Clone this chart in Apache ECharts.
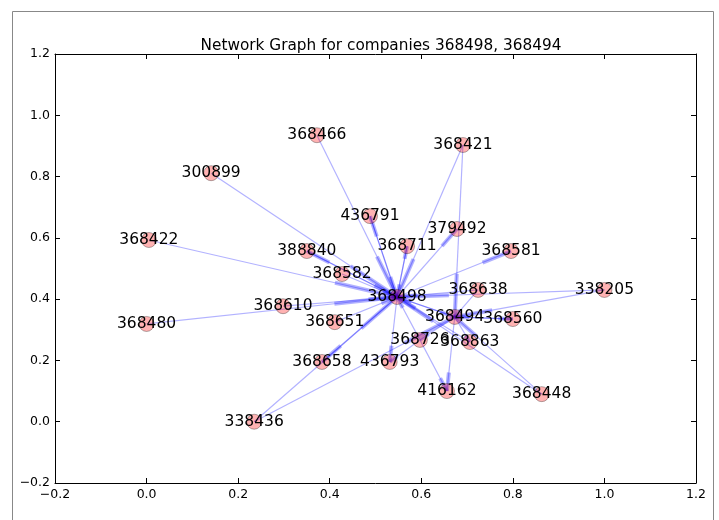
<!DOCTYPE html>
<html>
<head>
<meta charset="utf-8">
<script src="https://cdn.jsdelivr.net/npm/echarts@6/dist/echarts.min.js"></script>
<style>html,body{margin:0;padding:0;background:#fff;}#c{width:719px;height:520px;}</style>
</head>
<body>
<div id="c"></div>
<script>
var titleText = 'Network Graph for companies 368498, 368494';
var nodeNames = ['368498','368494','368466','300899','368422','368480','436791','388840','368582','368610','368651','368658','436793','368726','368863','416162','338436','368448','368560','338205','368638','368581','379492','368711','368421'];
var nodeX = [0.547,0.673,0.372,0.141,0.005,0.000,0.488,0.350,0.427,0.298,0.411,0.383,0.531,0.597,0.706,0.656,0.235,0.863,0.800,1.000,0.724,0.796,0.678,0.569,0.691];
var nodeY = [0.407,0.342,0.935,0.811,0.593,0.319,0.671,0.557,0.482,0.377,0.325,0.195,0.195,0.267,0.260,0.100,0.000,0.090,0.335,0.430,0.430,0.557,0.629,0.573,0.903];
var edgeSource = ['368466','300899','368422','368480','368610','388840','368498','368582','368498','436791','368498','368711','368498','368421','368421','368498','368638','368638','338205','338205','368494','368560','368448','368448','368863','368494','368726','368494','368726','368494','368498','368726','368498','338436','338436','368651','368494','368498'];
var edgeTarget = ['368498','368498','368498','368498','368498','368498','388840','368498','436791','368498','368711','368498','379492','368498','368494','368581','368498','368494','368498','368494','368560','368494','368498','368494','368498','368863','416162','416162','368498','368726','436793','436793','368658','368498','368494','368498','368498','368494'];
var xTicks = {min: -0.2, max: 1.2, interval: 0.2};

var idx = {};
nodeNames.forEach(function(n, i){ idx[n] = i; });
var nodeData = nodeNames.map(function(n, i){ return [nodeX[i], nodeY[i], n]; });
var edgeData = [];
for (var k = 0; k < edgeSource.length; k++) {
  var a = idx[edgeSource[k]], b = idx[edgeTarget[k]];
  if (a === undefined || b === undefined) continue;
  edgeData.push([nodeX[a], nodeY[a], nodeX[b], nodeY[b]]);
}
function fmt(v){ if (Math.abs(v) < 1e-9) v = 0; return v.toFixed(1).replace('-', '\u2212'); }
var font = 'DejaVu Sans';
var baseAxis = {
  type: 'value', min: xTicks.min, max: xTicks.max, interval: xTicks.interval,
  axisLine: {show: true, onZero: false, lineStyle: {color: '#000', width: 1}},
  axisTick: {show: true, inside: true, length: 5, lineStyle: {color: '#000'}},
  splitLine: {show: false}
};
function ax(extra){ var o = JSON.parse(JSON.stringify(baseAxis)); for (var k in extra) o[k] = extra[k]; return o; }
var chart = echarts.init(document.getElementById('c'), null, {renderer: 'canvas'});
chart.setOption({
  animation: false,
  backgroundColor: '#fff',
  title: {text: titleText, left: 376, textAlign: 'center', top: 34,
    textStyle: {fontFamily: font, fontSize: 15.3, fontWeight: 'normal', color: '#000'}},
  grid: {left: 55, right: 23, top: 54, bottom: 37, containLabel: false},
  xAxis: [
    ax({position: 'bottom', axisLabel: {show: true, margin: 5, formatter: fmt, color: '#000', fontFamily: font, fontSize: 12.5}}),
    ax({position: 'top', axisLabel: {show: false}})
  ],
  yAxis: [
    ax({position: 'left', axisLabel: {show: true, margin: 5, formatter: fmt, color: '#000', fontFamily: font, fontSize: 12.5}}),
    ax({position: 'right', axisLabel: {show: false}})
  ],
  graphic: [
    {type: 'polyline', silent: true, shape: {points: [[12.5, 530], [12.5, 11.5], [713.5, 11.5], [713.5, 530]]},
      style: {stroke: '#888', lineWidth: 1, fill: null}, z: -1}
  ],
  series: [
    {
      type: 'custom', xAxisIndex: 0, yAxisIndex: 0, data: edgeData, z: 1,
      encode: {x: [0, 2], y: [1, 3]},
      renderItem: function(params, api){
        var p1 = api.coord([api.value(0), api.value(1)]);
        var p2 = api.coord([api.value(2), api.value(3)]);
        var pa = [p1[0] + 0.75 * (p2[0] - p1[0]), p1[1] + 0.75 * (p2[1] - p1[1])];
        return {type: 'group', children: [
          {type: 'line', shape: {x1: p1[0], y1: p1[1], x2: p2[0], y2: p2[1]}, style: {stroke: 'rgba(0,0,255,0.3)', lineWidth: 1.2}},
          {type: 'line', shape: {x1: pa[0], y1: pa[1], x2: p2[0], y2: p2[1]}, style: {stroke: 'rgba(0,0,255,0.3)', lineWidth: 4}}
        ]};
      }
    },
    {
      type: 'scatter', xAxisIndex: 0, yAxisIndex: 0, data: nodeData, z: 2,
      symbol: 'circle', symbolSize: 15,
      itemStyle: {color: 'rgba(255,0,0,0.3)', borderColor: 'rgba(0,0,0,0.3)', borderWidth: 1, opacity: 1},
      label: {show: true, position: 'inside', formatter: function(p){ return p.data[2]; },
        color: '#000', fontFamily: font, fontSize: 15.5},
      emphasis: {disabled: true}
    }
  ]
});
</script>
</body>
</html>
